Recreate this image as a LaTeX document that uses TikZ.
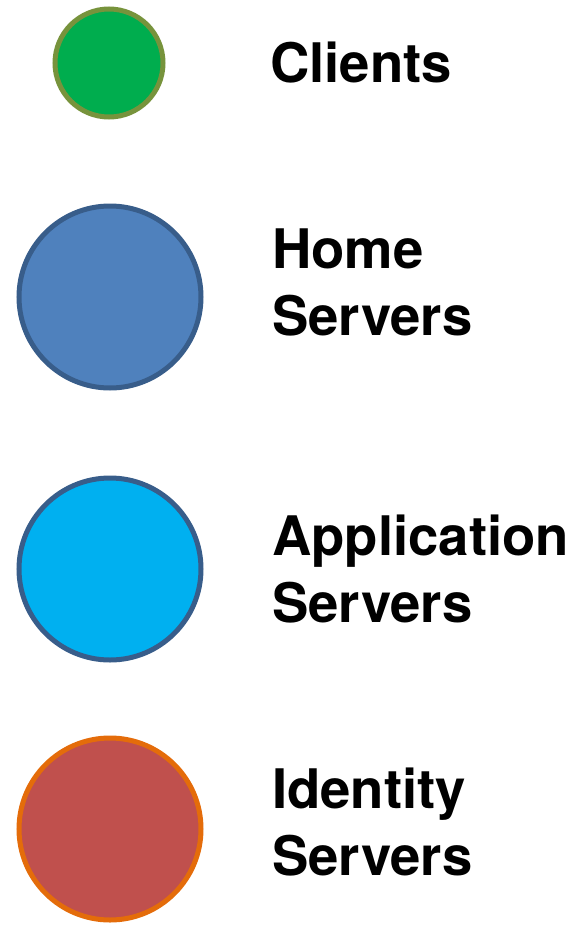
\documentclass[tikz,border=0pt]{standalone}
\usepackage{fontspec}
\setmainfont{TeX Gyre Heros}
\usetikzlibrary{shapes}
\definecolor{clientfill}{HTML}{00AD4E}
\definecolor{clientline}{HTML}{77933C}
\definecolor{homefill}{HTML}{4F81BD}
\definecolor{serverline}{HTML}{385D8A}
\definecolor{appfill}{HTML}{00B0F0}
\definecolor{idfill}{HTML}{C0504D}
\definecolor{idline}{HTML}{E46C0A}
\tikzset{
  legendcircle/.style = {circle, line width=5pt, inner sep=0pt},
  legendtext/.style   = {anchor=base west, inner sep=0pt, align=left,
                         font=\fontsize{54.5}{67}\selectfont\bfseries}
}

\begin{document}
\begin{tikzpicture}[x=1pt,y=-1pt]
	\useasboundingbox (0,0) rectangle (577,926);
	\node[legendcircle, draw=clientline, fill=clientfill, minimum size=108pt] (C) at (109,63) {};
	\node[legendcircle, draw=serverline, fill=homefill, minimum size=182pt] (H) at (110,297) {};
	\node[legendcircle, draw=serverline, fill=appfill, minimum size=182pt] (A) at (110,569) {};
	\node[legendcircle, draw=idline, fill=idfill, minimum size=182pt] (I) at (110,829) {};
	\node[legendtext] (Ctext) at (270,82) {Clients};
	% base anchor sits on the last line
	\node[legendtext] (Htext) at (272,335) {Home\\Servers};
	\node[legendtext] (Atext) at (272,622) {Application\\Servers};
	\node[legendtext] (Itext) at (272,875) {Identity\\Servers};
\end{tikzpicture}
\end{document}
